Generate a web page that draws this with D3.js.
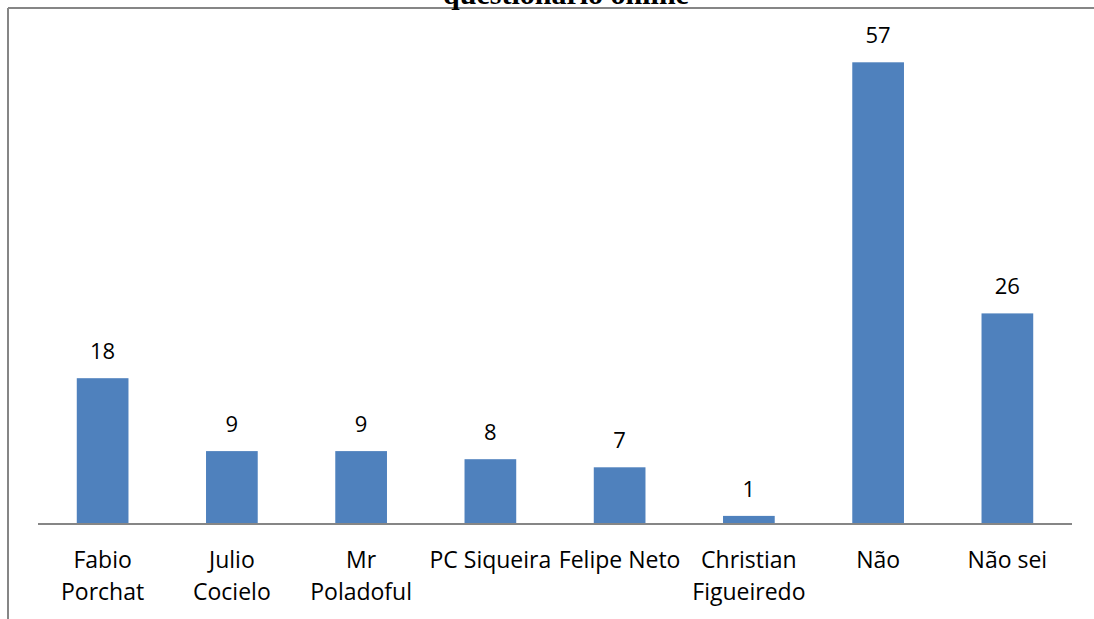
<!DOCTYPE html>
<html>
<head>
<meta charset="utf-8">
<script src="https://cdn.jsdelivr.net/npm/d3@7/dist/d3.min.js"></script>
<style>
  html, body { margin: 0; padding: 0; background: #fff; }
  svg { display: block; }
</style>
</head>
<body>
<svg id="chart" width="1094" height="619"></svg>
<script>
// Respostas do questionário online
const categories = ["Fabio Porchat", "Julio Cocielo", "Mr Poladoful", "PC Siqueira", "Felipe Neto", "Christian Figueiredo", "Não", "Não sei"];
const categoryLines = [["Fabio", "Porchat"], ["Julio", "Cocielo"], ["Mr", "Poladoful"], ["PC Siqueira"], ["Felipe Neto"], ["Christian", "Figueiredo"], ["Não"], ["Não sei"]];
const values = [18, 9, 9, 8, 7, 1, 57, 26];
const titleText = "questionário online";

const svg = d3.select("#chart");
const W = 1094, H = 619;
const left = 38, right = 1072, baseY = 524, topY = 38;
const labelFont = "'Open Sans', Lato, sans-serif";

// Outer frame (top and left edges)
svg.append("line").attr("x1", 8).attr("x2", W).attr("y1", 8).attr("y2", 8)
  .attr("stroke", "#868686").attr("stroke-width", 2);
svg.append("line").attr("x1", 8).attr("x2", 8).attr("y1", 8).attr("y2", H)
  .attr("stroke", "#868686").attr("stroke-width", 2);

// Title (partly above the visible area)
svg.append("text")
  .attr("x", 566).attr("y", 4)
  .attr("text-anchor", "middle")
  .attr("font-family", "'Liberation Serif', 'Times New Roman', serif")
  .attr("font-weight", "bold")
  .attr("font-size", 30)
  .text(titleText);

const x = d3.scaleBand().domain(categories).range([left, right]).paddingInner(0.6).paddingOuter(0.3);
const y = d3.scaleLinear().domain([0, 60]).range([baseY, topY]);

// Bars
svg.append("g").selectAll("rect").data(values).join("rect")
  .attr("x", (d, i) => x(categories[i]))
  .attr("width", x.bandwidth())
  .attr("y", d => y(d))
  .attr("height", d => y(0) - y(d))
  .attr("fill", "#4F81BD");

// Value labels
svg.append("g").selectAll("text").data(values).join("text")
  .attr("x", (d, i) => x(categories[i]) + x.bandwidth() / 2)
  .attr("y", d => y(d) - 19)
  .attr("text-anchor", "middle")
  .attr("font-family", labelFont)
  .attr("font-size", 22)
  .attr("fill", "#000")
  .text(d => d);

// Category axis
const axis = d3.axisBottom(x).tickSize(0).tickFormat("");
const gAxis = svg.append("g").attr("transform", `translate(0,${baseY})`).call(axis);
gAxis.select(".domain").attr("stroke", "#868686").attr("stroke-width", 2)
  .attr("d", `M${left},0H${right}`);

// Category labels (wrapped)
const catG = svg.append("g");
categories.forEach((c, i) => {
  const t = catG.append("text")
    .attr("x", x(c) + x.bandwidth() / 2)
    .attr("y", 568)
    .attr("text-anchor", "middle")
    .attr("font-family", labelFont)
    .attr("font-size", 23)
    .attr("fill", "#000");
  categoryLines[i].forEach((ln, j) => {
    t.append("tspan").attr("x", x(c) + x.bandwidth() / 2).attr("dy", j === 0 ? 0 : 32).text(ln);
  });
});
</script>
</body>
</html>
